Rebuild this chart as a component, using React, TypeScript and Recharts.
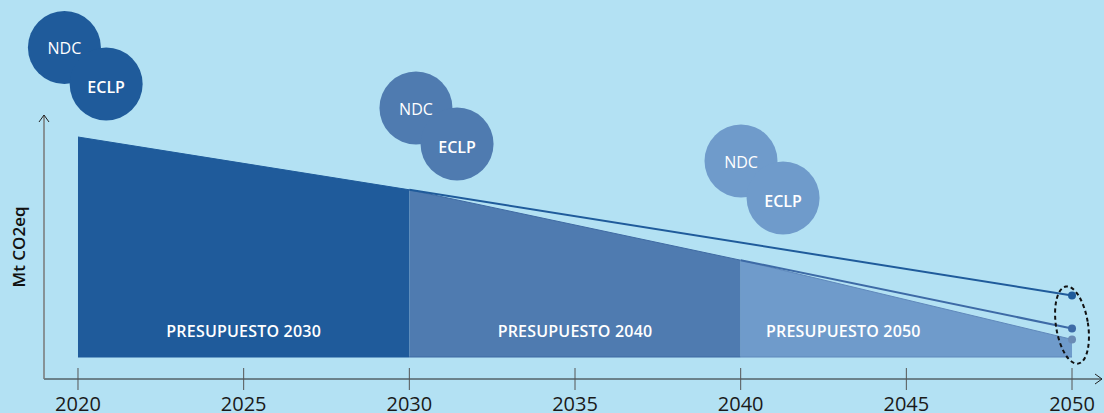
import React from 'react';
import {ComposedChart, Area, Line, XAxis, YAxis, ReferenceDot} from 'recharts';

// years on the x axis
const years = [2020, 2030, 2040, 2050];
const xTicks = [2020, 2025, 2030, 2035, 2040, 2045, 2050];

// emissions (Mt CO2eq)
const baseLevel = 10;
const budget2030 = [110, 86, null, null];
const budget2040 = [null, 86, 54, null];
const budget2050 = [null, null, 54, 18];
const path2030 = [null, 86, null, 38];
const path2040 = [null, null, 54, 23];

const budgetLabels = ['PRESUPUESTO 2030', 'PRESUPUESTO 2040', 'PRESUPUESTO 2050'];
const budgetLabelYears = [2025, 2035, 2043.1];

// NDC / ECLP bubbles, anchored in chart units
const ndcYears = [2019.59, 2030.2, 2040.01];
const ndcValues = [150.7, 123.2, 99.1];
const eclpYears = [2020.85, 2031.44, 2041.28];
const eclpValues = [134.1, 106.8, 82.3];

const DARK = '#1f5b9b';
const MID = '#4f7bb0';
const LIGHT = '#6f9bcb';
const bubbleColors = [DARK, MID, LIGHT];
const FONT = '"Open Sans", "Noto Sans", sans-serif';

const X_MIN = 2018.974;
const X_MAX = 2050.905;

const range = (v: number | null) => (v == null ? null : [baseLevel, v]);

const data = years.map((year, i) => ({
    year,
    b2030: range(budget2030[i]),
    b2040: range(budget2040[i]),
    b2050: range(budget2050[i]),
    p2030: path2030[i],
    p2040: path2040[i],
}));

const endDot = (color: string) => (props: any) => {
    const {cx, cy, payload, index} = props;
    if (payload.year !== 2050 || cy == null) return <g key={`d-${index}`}/>;
    return <circle key={`d-${index}`} cx={cx} cy={cy} r={4} fill={color}/>;
};

const XTick = (props: any) => {
    const {x, y, payload} = props;
    return (
        <g>
            <line x1={x} x2={x} y1={y - 11} y2={y + 11} stroke="#555" strokeWidth={1}/>
            <text x={x} y={y + 32} textAnchor="middle" fill="#1a1a1a" fontSize={20} fontFamily={FONT}>
                {payload.value}
            </text>
        </g>
    );
};

const Bubble = (text: string, color: string, bold: boolean) => (props: any) => {
    const {cx, cy} = props;
    return (
        <g>
            <circle cx={cx} cy={cy} r={36.5} fill={color}/>
            <text x={cx} y={cy + (bold ? 9 : 7)} textAnchor="middle" fill="#fff" fontSize={16}
                  fontWeight={bold ? 600 : 400} fontFamily={FONT}>{text}</text>
        </g>
    );
};

const BudgetText = (text: string) => (props: any) => {
    const {cx, cy} = props;
    return (
        <text x={cx} y={cy + 6} textAnchor="middle" fill="#fff" fontSize={16} fontWeight={600}
              fontFamily={FONT} letterSpacing={0.2}>{text}</text>
    );
};

const RightArrow = (props: any) => {
    const {cx, cy} = props;
    return <path d={`M${cx - 7},${cy - 5} L${cx},${cy} L${cx - 7},${cy + 5}`} fill="none" stroke="#222" strokeWidth={1}/>;
};

const UpArrow = (props: any) => {
    const {cx, cy} = props;
    return <path d={`M${cx - 5},${cy + 7} L${cx},${cy} L${cx + 5},${cy + 7}`} fill="none" stroke="#222" strokeWidth={1}/>;
};

const Ellipse = (props: any) => {
    const {cx, cy} = props;
    return (
        <ellipse cx={cx} cy={cy} rx={16} ry={39} fill="none" stroke="#111" strokeWidth={2}
                 strokeDasharray="4 3" transform={`rotate(-9 ${cx} ${cy})`}/>
    );
};

const App: React.FC = () => {
    return (
        <div style={{width: 1104, height: 413, background: '#b3e1f3'}}>
            <style>{`body{margin:0}`}</style>
            <ComposedChart width={1104} height={413} data={data}
                           margin={{top: 115, right: 2, left: 0, bottom: 0}}>
                <XAxis dataKey="year" type="number" domain={[X_MIN, X_MAX]} ticks={xTicks}
                       allowDataOverflow height={34} tickSize={0} tickMargin={0} tickLine={false}
                       axisLine={{stroke: '#222', strokeWidth: 1}} tick={<XTick/>} interval={0}/>
                <YAxis type="number" domain={[0, 120]} allowDataOverflow width={44} tick={false}
                       tickLine={false} axisLine={{stroke: '#777', strokeWidth: 1.5}}
                       label={{
                           content: (p: any) => {
                               const vb = p.viewBox || {x: 0, y: 115, height: 264};
                               const x = vb.x + 18;
                               const y = vb.y + vb.height / 2;
                               return (
                                   <text x={x} y={y} transform={`rotate(-90 ${x} ${y})`} textAnchor="middle"
                                         dominantBaseline="central" fontSize={17} fontWeight={600}
                                         fontFamily={FONT} fill="#111">Mt CO2eq</text>
                               );
                           },
                       }}/>

                <Area type="linear" dataKey="b2030" fill={DARK} stroke={DARK} strokeWidth={1}
                      fillOpacity={1} dot={false} activeDot={false} isAnimationActive={false}/>
                <Area type="linear" dataKey="b2040" fill={MID} stroke="#3f6aa3" strokeWidth={1}
                      fillOpacity={1} dot={false} activeDot={false} isAnimationActive={false}/>
                <Area type="linear" dataKey="b2050" fill={LIGHT} stroke="#5f88bb" strokeWidth={1}
                      fillOpacity={1} dot={endDot('#6a8bb5')} activeDot={false} isAnimationActive={false}/>

                <Line type="linear" dataKey="p2030" stroke={DARK} strokeWidth={2} connectNulls
                      dot={endDot(DARK)} activeDot={false} isAnimationActive={false}/>
                <Line type="linear" dataKey="p2040" stroke="#3d6aa6" strokeWidth={2} connectNulls
                      dot={endDot('#3d6aa6')} activeDot={false} isAnimationActive={false}/>

                {budgetLabels.map((t, i) => (
                    <ReferenceDot key={t} x={budgetLabelYears[i]} y={21.8} ifOverflow="visible"
                                  shape={BudgetText(t)}/>
                ))}
                {ndcYears.map((yr, i) => (
                    <ReferenceDot key={`ndc-${i}`} x={yr} y={ndcValues[i]} ifOverflow="visible"
                                  shape={Bubble('NDC', bubbleColors[i], false)}/>
                ))}
                {eclpYears.map((yr, i) => (
                    <ReferenceDot key={`eclp-${i}`} x={eclpYears[i]} y={eclpValues[i]} ifOverflow="visible"
                                  shape={Bubble('ECLP', bubbleColors[i], true)}/>
                ))}
                <ReferenceDot x={2050} y={24.5} ifOverflow="visible" shape={Ellipse}/>
                <ReferenceDot x={X_MAX} y={0} ifOverflow="visible" shape={RightArrow}/>
                <ReferenceDot x={X_MIN} y={120} ifOverflow="visible" shape={UpArrow}/>
            </ComposedChart>
        </div>
    );
};

export default App;
